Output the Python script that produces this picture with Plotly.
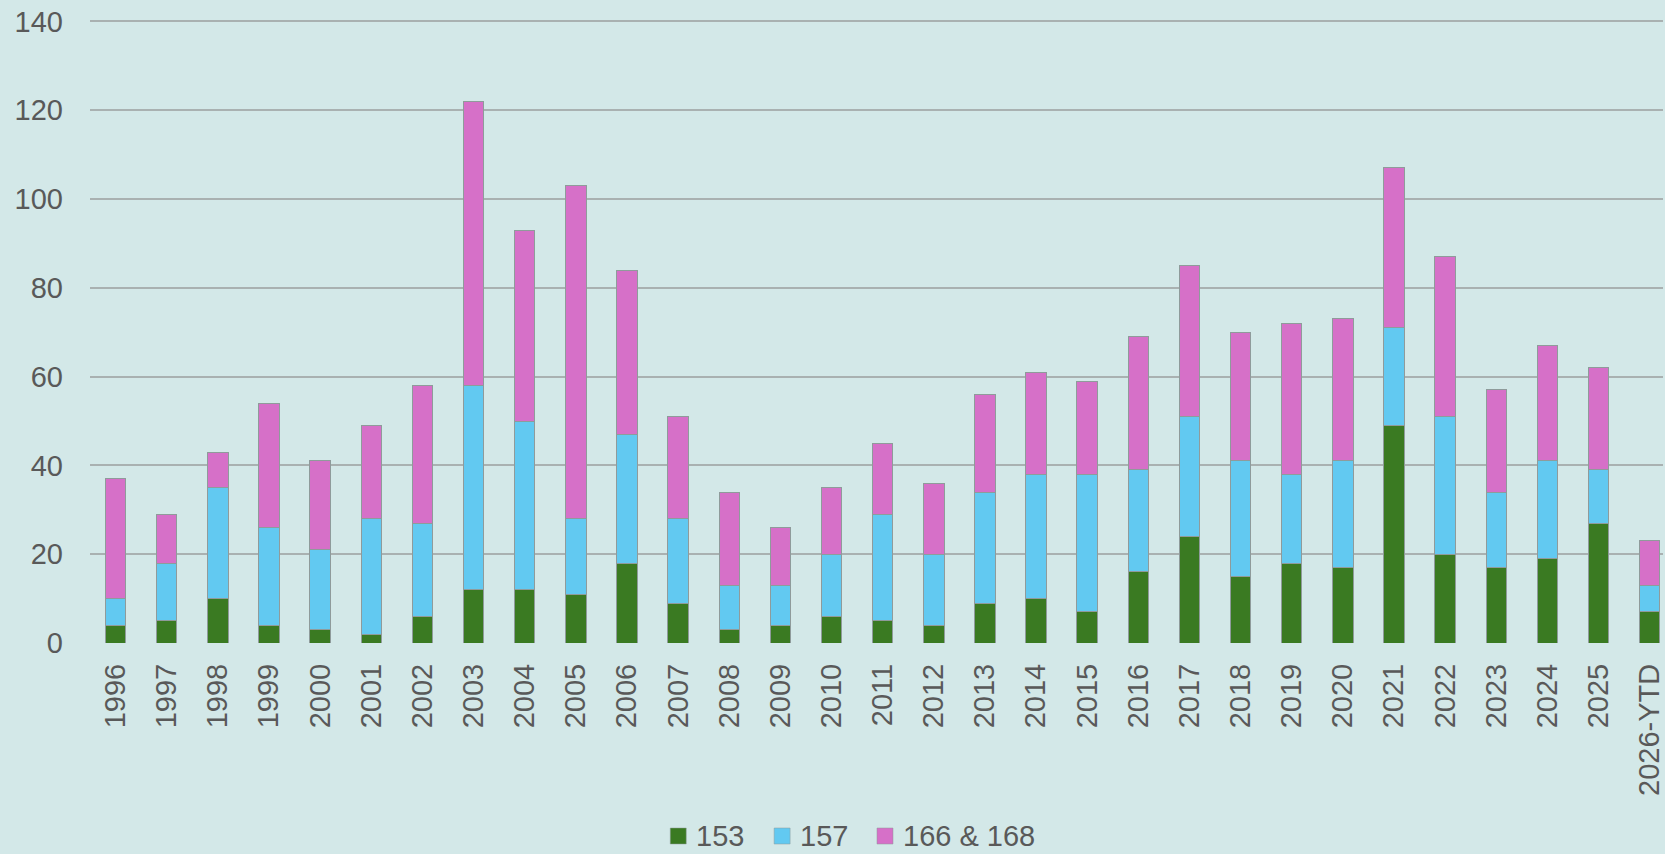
import plotly.graph_objects as go

years = ["1996", "1997", "1998", "1999", "2000", "2001", "2002", "2003", "2004", "2005",
         "2006", "2007", "2008", "2009", "2010", "2011", "2012", "2013", "2014", "2015",
         "2016", "2017", "2018", "2019", "2020", "2021", "2022", "2023", "2024", "2025",
         "2026-YTD"]

s153 = [4, 5, 10, 4, 3, 2, 6, 12, 12, 11, 18, 9, 3, 4, 6, 5, 4, 9, 10, 7,
        16, 24, 15, 18, 17, 49, 20, 17, 19, 27, 7]
s157 = [6, 13, 25, 22, 18, 26, 21, 46, 38, 17, 29, 19, 10, 9, 14, 24, 16, 25, 28, 31,
        23, 27, 26, 20, 24, 22, 31, 17, 22, 12, 6]
s166 = [27, 11, 8, 28, 20, 21, 31, 64, 43, 75, 37, 23, 21, 13, 15, 16, 16, 22, 23, 21,
        30, 34, 29, 34, 32, 36, 36, 23, 26, 23, 10]

series = [("153", s153, "#3a7a22"), ("157", s157, "#62c9f1"), ("166 & 168", s166, "#d670c8")]

bg = "#d3e8e8"
text_col = "#595959"
font = "Liberation Sans, Arial, sans-serif"

W, H = 1665, 854
L, R, T, B = 90, 0, 17, 211
pw, ph = W - L - R, H - T - B


def px(x):  # page pixel -> paper x
    return (x - L) / pw


def py(y):  # page pixel -> paper y
    return (H - B - y) / ph


fig = go.Figure()
for name, vals, col in series:
    fig.add_trace(go.Bar(
        x=years, y=vals, name=name,
        marker=dict(color=col, line=dict(color="#8f9b9b", width=1)),
        width=0.4,
    ))

# legend drawn by hand so the spacing matches the original
leg_x = [671, 775, 878]
leg_y = 836
for (name, _, col), x0 in zip(series, leg_x):
    fig.add_shape(type="rect", xref="paper", yref="paper",
                  x0=px(x0), x1=px(x0 + 16), y0=py(leg_y + 8), y1=py(leg_y - 8),
                  fillcolor=col, line=dict(color="#8f9b9b", width=0.5))
    fig.add_annotation(xref="paper", yref="paper", x=px(x0 + 24), y=py(leg_y),
                       text=name, showarrow=False, xanchor="left", yanchor="middle",
                       font=dict(size=29, color=text_col, family=font))

fig.update_layout(
    barmode="stack",
    width=W, height=H,
    margin=dict(l=L, r=R, t=T, b=B),
    paper_bgcolor=bg, plot_bgcolor=bg,
    font=dict(family=font, size=29, color=text_col),
    showlegend=False,
    xaxis=dict(range=[-0.5, 30.26], tickangle=-90, showgrid=False, zeroline=False,
               showline=False, ticks="", ticklabelstandoff=14,
               tickfont=dict(size=29, color=text_col)),
    yaxis=dict(range=[0, 141], tickvals=[0, 20, 40, 60, 80, 100, 120, 140],
               showgrid=True, gridcolor="#a9b1b1", gridwidth=2,
               zeroline=False, showline=False, ticks="", ticklabelstandoff=26,
               tickfont=dict(size=29, color=text_col)),
)

fig.write_html("out.html", config={"displayModeBar": False},
               post_script="document.body.style.margin='0';")
